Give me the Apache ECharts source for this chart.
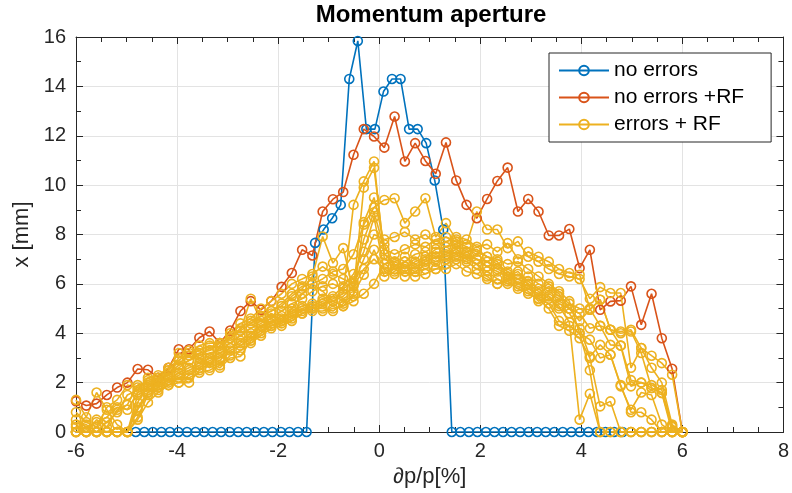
<!DOCTYPE html>
<html>
<head>
<meta charset="utf-8">
<script src="https://cdn.jsdelivr.net/npm/echarts@6/dist/echarts.min.js"></script>
<style>
html, body { margin: 0; padding: 0; background: #fff; }
#main { width: 792px; height: 493px; }
</style>
</head>
<body>
<div id="main"></div>
<script>
// momentum offsets [%]
const dpNoErr = [-4.817,-4.648,-4.479,-4.310,-4.141,-3.972,-3.803,-3.634,-3.465,-3.296,-3.127,-2.958,-2.789,-2.620,-2.451,-2.282,-2.113,-1.944,-1.775,-1.606,-1.437,
  -1.268,-1.099,-0.930,-0.761,-0.592,-0.423,-0.254,-0.085,0.085,0.254,0.423,0.592,0.761,0.930,1.099,1.268,
  1.437,1.606,1.775,1.944,2.113,2.282,2.451,2.620,2.789,2.958,3.127,3.296,3.465,3.634,3.803,3.972,4.141,4.310,4.479,4.648,4.817];
const xNoErr = [0,0,0,0,0,0,0,0,0,0,0,0,0,0,0,0,0,0,0,0,0,
  7.66,8.2,8.66,9.2,14.3,15.84,12.27,12.27,13.79,14.3,14.3,12.27,12.27,11.7,10.19,8.2,
  0,0,0,0,0,0,0,0,0,0,0,0,0,0,0,0,0,0,0,0,0];

const dpRF = [-6.000,-5.797,-5.593,-5.390,-5.186,-4.983,-4.780,-4.576,-4.373,-4.169,-3.966,-3.763,-3.559,-3.356,-3.153,-2.949,-2.746,-2.542,-2.339,-2.136,
  -1.932,-1.729,-1.525,-1.322,-1.119,-0.915,-0.712,-0.508,-0.305,-0.102,0.102,0.305,0.508,0.712,0.915,1.119,1.322,1.525,1.729,1.932,
  2.136,2.339,2.542,2.746,2.949,3.153,3.356,3.559,3.763,3.966,4.169,4.373,4.576,4.780,4.983,5.186,5.390,5.593,5.797,6.000];
const xNoErrRF = [1.25,1.07,1.15,1.5,1.8,2.0,2.55,2.52,2.2,2.6,3.35,3.35,3.82,4.07,3.6,4.11,4.9,5.3,4.95,5.3,
  5.88,6.44,7.38,7.15,8.93,9.43,9.72,11.23,12.27,11.97,11.52,12.78,10.96,11.7,10.98,10.46,11.73,10.19,9.2,8.66,
  9.44,10.17,10.71,8.93,9.44,8.93,7.96,7.96,8.22,6.64,7.38,4.95,5.29,5.32,5.9,4.34,5.6,3.8,2.56,0];

// errors + RF, one array per error seed (same dp grid as dpRF)
const err1 = [0.8,0.4,0.2,1.0,1.3,1.9, 1.8,2.1,2.2,2.5,2.9,3.2,3.3,3.5,3.4,3.8,4.1,4.4,4.7,4.9,5.2,5.6,5.9,6.0,6.2,6.5,6.6,
  7.2,8.4,9.1,9.4,9.47,8.46,8.93,9.47,7.9, 8.46,7.8,7.6,8.93,8.2,8.2,7.45,7.72,7.1,6.9,6.6,6.4,6.3,6.2,5.4,5.87,5.63,5.63,2.6,3.4,3.09,2.79,2.32,0];
const err2 = [0,0,0,0,0,0, 1.5,1.7,1.9,2.1,2.4,2.6,2.8,3.0,3.2,3.4,3.7,4.0,4.3,4.4,4.7,4.8,5.0,5.1,5.3,5.4,5.6,
  9.2,10.15,10.96,7.0,6.9,7.1,6.8,7.0,7.3, 7.2,7.4,7.1,7.0,6.9,6.6,6.4,6.2,6.0,5.7,5.4,5.1,4.45,0.5,1.55,0,0,0,0,0,0,0,0,0];
const err3 = [1.3,0.6,1.6,0.9,0.3,0, 1.2,1.9,2.2,2.3,2.6,2.9,3.2,3.3,3.6,3.8,4.2,4.5,4.7,4.9,5.1,5.5,5.8,6.3,7.92,6.84,7.45,
  5.7,9.9,10.7,7.2,6.8,6.6,6.9,7.1,7.4, 7.5,7.6,7.3,7.0,6.7,6.8,6.5,6.0,5.8,5.6,5.9,5.6,5.0,4.5,4.95,5.36,4.14,4.0,4.07,3.2,1.78,1.58,0,0];
const err4 = [0,0,0,0,0,0, 0.9,1.6,2.0,2.2,2.0,2.3,2.6,2.9,3.0,3.4,3.6,3.9,4.3,4.5,4.6,4.9,5.1,5.2,5.4,5.5,5.9,
  6.4,7.3,8.7,6.5,6.6,6.7,6.5,6.8,6.9, 7.0,7.1,7.3,7.4,7.1,6.9,6.3,6.5,6.1,5.8,5.5,5.2,5.0,4.8,4.2,4.3,3.53,3.5,1.85,2.0,1.9,1.7,0.25,0];
const err5 = [0.3,0,0.5,0.2,0.9,1.1, 1.9,2.0,1.8,2.5,3.0,3.3,3.0,2.6,3.5,3.9,4.1,5.4,4.5,4.8,4.5,5.0,5.6,6.0,5.7,5.3,5.1,
  5.5,8.5,9.5,7.6,6.6,6.3,6.5,6.6,6.6, 6.8,7.0,6.9,6.6,6.5,6.2,6.0,5.9,5.7,5.3,5.5,5.0,4.8,4.2,3.06,3.53,3.13,1.85,0.9,1.6,1.5,0.3,0,0];
const err6 = [0,0,0,0,0,0, 0.6,1.5,1.7,1.9,2.0,2.0,2.5,2.8,2.6,3.0,3.06,3.7,4.0,4.3,4.4,4.6,4.8,5.0,5.0,4.9,5.2,
  5.6,6.37,7.38,6.3,6.5,6.9,7.2,7.3,7.0, 7.3,7.2,7.0,6.8,6.3,6.0,6.2,6.4,6.0,5.4,5.0,4.3,4.1,3.8,3.0,1.04,1.24,0,0,0,0,0,0,0];
const err7 = [0.2,0.3,0,0.4,0.8,1.5, 1.7,2.2,2.3,2.6,3.2,3.1,3.5,3.6,3.6,4.0,4.4,4.6,5.0,5.3,5.6,6.0,6.2,6.4,6.7,6.4,6.2,
  6.0,7.0,8.0,7.8,7.9,8.1,7.8,8.0,7.6, 7.7,7.9,7.8,7.5,7.6,7.3,7.65,7.0,7.3,7.1,6.9,6.6,6.44,6.37,5.0,4.3,4.14,3.5,2.1,2.0,1.78,1.58,0.2,0];
const err8 = [0,0,0,0,0,0, 1.0,1.6,1.8,2.0,2.3,2.5,2.7,3.0,2.9,3.3,3.5,3.8,4.1,4.3,4.5,4.7,4.9,5.0,5.2,5.3,5.5,
  5.9,6.6,7.0,6.6,6.4,6.5,6.3,6.4,6.6, 6.6,6.8,6.5,6.4,6.2,6.0,6.1,5.8,5.6,5.4,5.2,4.5,4.3,4.0,3.74,3.0,3.13,1.9,0.8,0.8,0.5,0,0,0];
const err9 = [0.5,0.2,0.4,0.6,1.0,0.9, 1.6,1.8,2.1,2.4,2.7,2.9,3.1,3.2,3.3,3.6,3.9,4.2,4.4,4.6,4.9,5.2,5.4,5.7,5.9,6.0,5.8,
  6.1,7.8,8.9,7.4,7.2,7.4,7.6,7.5,7.8, 7.9,7.7,7.5,7.3,7.1,7.0,6.8,6.9,6.6,6.3,6.0,5.7,5.3,4.0,2.5,0,0,0,0,0,0,0,0,0];
const err10 = [0,0,0,0,0,0, 0.5,1.2,1.6,1.9,2.2,2.2,2.4,2.5,2.7,3.1,3.3,3.6,3.9,4.2,4.3,4.5,4.8,4.9,4.9,5.0,5.1,
  5.3,5.6,6.0,6.8,6.9,6.7,6.6,6.9,7.1, 7.1,7.3,7.2,7.0,6.7,6.5,6.3,6.2,6.3,6.0,5.8,5.5,5.2,5.0,4.95,5.36,4.14,4.07,4.14,3.4,2.6,2.0,0.3,0];
const errRuns = [err1, err2, err3, err4, err5, err6, err7, err8, err9, err10];

const xTicks = [-6, -4, -2, 0, 2, 4, 6, 8];
const yTicks = [0, 2, 4, 6, 8, 10, 12, 14, 16];

const cBlue = '#0072BD', cOrange = '#D95319', cYellow = '#EDB120';
const axisCol = '#262626';
const font = '"Liberation Sans", Arial, Helvetica, sans-serif';

function mkLine(name, xs, ys, col) {
    return {
        name: name,
        type: 'line',
        data: xs.map((x, i) => [x, ys[i]]),
        symbol: 'circle',
        symbolSize: 9,
        lineStyle: { color: col, width: 1.6 },
        itemStyle: { color: 'rgba(255,255,255,0)', borderColor: col, borderWidth: 1.6 },
        emphasis: { disabled: true },
        animation: false
    };
}

let chart = echarts.init(document.getElementById('main'));

let series = [
    mkLine('no errors', dpNoErr, xNoErr, cBlue),
    mkLine('no errors +RF', dpRF, xNoErrRF, cOrange)
];
errRuns.forEach(r => series.push(mkLine('errors + RF', dpRF, r, cYellow)));

let option = {
    backgroundColor: '#fff',
    animation: false,
    title: {
        text: 'Momentum aperture',
        left: 431,
        textAlign: 'center',
        top: 3,
        padding: 0,
        textStyle: { fontSize: 24, fontWeight: 'bold', color: '#000', fontFamily: font }
    },
    legend: {
        data: ['no errors', 'no errors +RF', 'errors + RF'],
        orient: 'vertical',
        left: 549,
        top: 53,
        padding: [7, 27, 7, 9],
        itemGap: 6,
        itemWidth: 50,
        itemHeight: 12,
        backgroundColor: '#fff',
        borderColor: axisCol,
        borderWidth: 1,
        textStyle: { fontSize: 21, color: '#000', fontFamily: font },
        z: 10
    },
    grid: { left: 76, right: 5, top: 37, bottom: 61 },
    xAxis: [
        {
            type: 'value', min: xTicks[0], max: xTicks[xTicks.length - 1], interval: 2,
            position: 'bottom',
            name: '∂p/p[%]', nameLocation: 'middle', nameGap: 28,
            nameTextStyle: { fontSize: 22, color: axisCol, fontFamily: font },
            axisLine: { onZero: false, lineStyle: { color: axisCol } },
            axisTick: { inside: true, length: 7, lineStyle: { color: axisCol } },
            minorTick: { show: true, splitNumber: 4, length: 5, lineStyle: { color: axisCol } },
            axisLabel: { color: axisCol, fontSize: 20, margin: 9, fontFamily: font },
            splitLine: { show: true, lineStyle: { color: '#e3e3e3' } }
        },
        {
            type: 'value', min: xTicks[0], max: xTicks[xTicks.length - 1], interval: 2,
            position: 'top',
            axisLine: { onZero: false, lineStyle: { color: axisCol } },
            axisTick: { inside: true, length: 7, lineStyle: { color: axisCol } },
            minorTick: { show: true, splitNumber: 4, length: 5, lineStyle: { color: axisCol } },
            axisLabel: { show: false },
            splitLine: { show: false }
        }
    ],
    yAxis: [
        {
            type: 'value', min: yTicks[0], max: yTicks[yTicks.length - 1], interval: 2,
            position: 'left',
            name: 'x [mm]', nameLocation: 'middle', nameGap: 40,
            nameTextStyle: { fontSize: 22, color: axisCol, fontFamily: font },
            axisLine: { onZero: false, lineStyle: { color: axisCol } },
            axisTick: { inside: true, length: 7, lineStyle: { color: axisCol } },
            minorTick: { show: true, splitNumber: 2, length: 5, lineStyle: { color: axisCol } },
            axisLabel: { color: axisCol, fontSize: 20, margin: 10, fontFamily: font },
            splitLine: { show: true, lineStyle: { color: '#e3e3e3' } }
        },
        {
            type: 'value', min: yTicks[0], max: yTicks[yTicks.length - 1], interval: 2,
            position: 'right',
            axisLine: { onZero: false, lineStyle: { color: axisCol } },
            axisTick: { inside: true, length: 7, lineStyle: { color: axisCol } },
            minorTick: { show: true, splitNumber: 2, length: 5, lineStyle: { color: axisCol } },
            axisLabel: { show: false },
            splitLine: { show: false }
        }
    ],
    series: series
};
chart.setOption(option);
</script>
</body>
</html>
